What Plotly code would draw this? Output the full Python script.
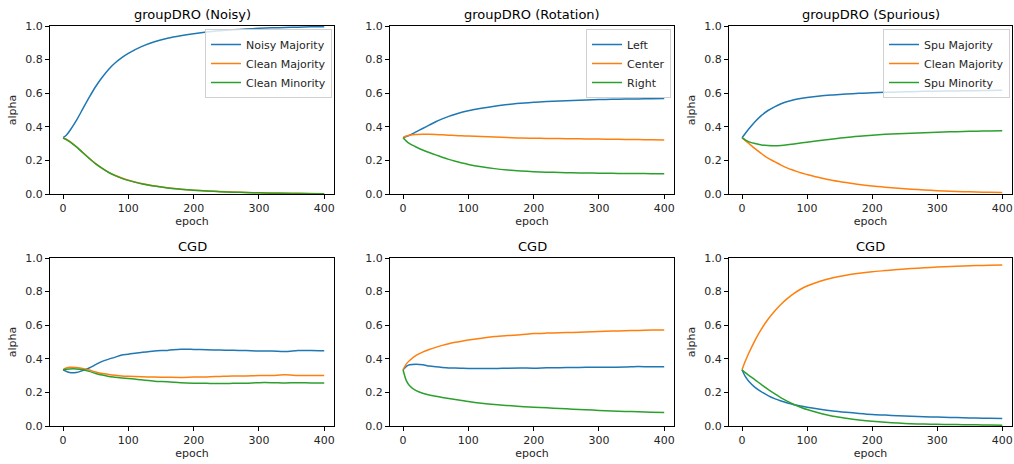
import plotly.graph_objects as go

EPOCHS = [0, 5, 10, 20, 30, 40, 50, 60, 70, 80, 90, 100, 120, 140, 160, 180,
          200, 220, 240, 260, 280, 300, 320, 340, 360, 380, 400]

# groupDRO (Noisy)
DRO_NOISY_NOISY_MAJ = [0.335, 0.35, 0.375, 0.435, 0.505, 0.575, 0.64, 0.695, 0.743, 0.781, 0.812, 0.837,
                       0.877, 0.906, 0.927, 0.942, 0.954, 0.964, 0.971, 0.977, 0.982, 0.986, 0.989,
                       0.991, 0.993, 0.995, 0.996]
DRO_NOISY_CLEAN_MAJ = [0.334, 0.326, 0.313, 0.283, 0.248, 0.213, 0.181, 0.153, 0.129, 0.11, 0.095, 0.082,
                       0.062, 0.047, 0.037, 0.029, 0.023, 0.018, 0.015, 0.012, 0.009, 0.007, 0.006,
                       0.005, 0.004, 0.003, 0.002]
DRO_NOISY_CLEAN_MIN = [0.333, 0.324, 0.312, 0.282, 0.247, 0.212, 0.179, 0.152, 0.128, 0.109, 0.093, 0.081,
                       0.061, 0.047, 0.036, 0.029, 0.023, 0.018, 0.014, 0.011, 0.009, 0.007, 0.005,
                       0.004, 0.003, 0.002, 0.002]

# groupDRO (Rotation)
DRO_ROT_LEFT = [0.335, 0.342, 0.35, 0.37, 0.39, 0.41, 0.43, 0.447, 0.462, 0.475, 0.486, 0.495,
                0.51, 0.523, 0.533, 0.54, 0.546, 0.55, 0.554, 0.557, 0.56, 0.562, 0.564,
                0.565, 0.566, 0.567, 0.568]
DRO_ROT_CENTER = [0.335, 0.345, 0.35, 0.354, 0.355, 0.355, 0.354, 0.352, 0.35, 0.348, 0.346, 0.345,
                  0.342, 0.339, 0.336, 0.333, 0.332, 0.331, 0.33, 0.329, 0.328, 0.327, 0.326,
                  0.325, 0.324, 0.323, 0.322]
DRO_ROT_RIGHT = [0.335, 0.315, 0.30, 0.28, 0.262, 0.247, 0.233, 0.219, 0.206, 0.195, 0.185, 0.176,
                 0.162, 0.151, 0.143, 0.137, 0.133, 0.13, 0.128, 0.126, 0.125, 0.124, 0.123,
                 0.122, 0.122, 0.121, 0.121]

# groupDRO (Spurious)
DRO_SPU_SPU_MAJ = [0.335, 0.36, 0.385, 0.43, 0.468, 0.497, 0.519, 0.537, 0.551, 0.561, 0.569, 0.575,
                   0.584, 0.59, 0.595, 0.599, 0.603, 0.605, 0.607, 0.609, 0.611, 0.612, 0.613,
                   0.614, 0.615, 0.616, 0.617]
DRO_SPU_CLEAN_MAJ = [0.335, 0.318, 0.303, 0.27, 0.24, 0.213, 0.193, 0.172, 0.154, 0.14, 0.126, 0.116,
                     0.097, 0.081, 0.068, 0.056, 0.047, 0.04, 0.034, 0.029, 0.024, 0.02, 0.017,
                     0.014, 0.012, 0.01, 0.009]
DRO_SPU_SPU_MIN = [0.335, 0.322, 0.312, 0.30, 0.292, 0.288, 0.287, 0.289, 0.293, 0.298, 0.303, 0.308,
                   0.318, 0.328, 0.337, 0.344, 0.35, 0.355, 0.359, 0.362, 0.365, 0.368, 0.37,
                   0.372, 0.374, 0.375, 0.376]

# CGD (Noisy)
CGD_NOISY_BLUE = [0.335, 0.325, 0.318, 0.318, 0.33, 0.345, 0.365, 0.385, 0.398, 0.41, 0.423, 0.427,
                  0.438, 0.447, 0.45, 0.457, 0.456, 0.454, 0.452, 0.451, 0.449, 0.446, 0.446,
                  0.443, 0.449, 0.45, 0.448]
CGD_NOISY_ORANGE = [0.335, 0.345, 0.35, 0.348, 0.343, 0.333, 0.322, 0.313, 0.307, 0.302, 0.298, 0.296,
                    0.293, 0.291, 0.29, 0.289, 0.291, 0.292, 0.295, 0.298, 0.298, 0.3, 0.301,
                    0.305, 0.301, 0.3, 0.3]
CGD_NOISY_GREEN = [0.335, 0.338, 0.34, 0.34, 0.335, 0.325, 0.313, 0.303, 0.295, 0.29, 0.285, 0.283,
                   0.275, 0.267, 0.264, 0.258, 0.255, 0.254, 0.253, 0.254, 0.255, 0.258, 0.258,
                   0.256, 0.258, 0.256, 0.256]

# CGD (Rotation)
CGD_ROT_BLUE = [0.335, 0.355, 0.365, 0.368, 0.365, 0.357, 0.352, 0.348, 0.345, 0.345, 0.344, 0.343,
                0.343, 0.342, 0.344, 0.345, 0.344, 0.346, 0.347, 0.348, 0.349, 0.349, 0.35,
                0.351, 0.354, 0.352, 0.353]
CGD_ROT_ORANGE = [0.335, 0.37, 0.39, 0.42, 0.44, 0.455, 0.468, 0.48, 0.49, 0.498, 0.505, 0.512,
                  0.523, 0.532, 0.538, 0.543, 0.55, 0.553, 0.555, 0.557, 0.56, 0.563, 0.565,
                  0.567, 0.569, 0.571, 0.572]
CGD_ROT_GREEN = [0.335, 0.27, 0.24, 0.21, 0.195, 0.185, 0.177, 0.17, 0.164, 0.158, 0.152, 0.146,
                 0.136, 0.128, 0.122, 0.116, 0.112, 0.108, 0.104, 0.1, 0.097, 0.093, 0.09,
                 0.087, 0.085, 0.082, 0.08]

# CGD (Spurious)
CGD_SPU_BLUE = [0.335, 0.295, 0.268, 0.23, 0.203, 0.181, 0.163, 0.149, 0.137, 0.127, 0.119, 0.112,
                0.1, 0.09, 0.082, 0.075, 0.069, 0.065, 0.061, 0.058, 0.055, 0.053, 0.051,
                0.049, 0.047, 0.046, 0.045]
CGD_SPU_ORANGE = [0.335, 0.385, 0.43, 0.51, 0.578, 0.635, 0.683, 0.725, 0.76, 0.79, 0.814, 0.833,
                  0.862, 0.883, 0.898, 0.909, 0.918, 0.925, 0.932, 0.937, 0.942, 0.946, 0.949,
                  0.952, 0.955, 0.957, 0.959]
CGD_SPU_GREEN = [0.335, 0.318, 0.303, 0.275, 0.246, 0.218, 0.192, 0.168, 0.147, 0.128, 0.112, 0.098,
                 0.076, 0.058, 0.046, 0.036, 0.028, 0.022, 0.018, 0.014, 0.012, 0.01, 0.009,
                 0.008, 0.007, 0.006, 0.005]

TITLES = ["groupDRO (Noisy)", "groupDRO (Rotation)", "groupDRO (Spurious)", "CGD", "CGD", "CGD"]
LEGEND_NAMES = [["Noisy Majority", "Clean Majority", "Clean Minority"],
                ["Left", "Center", "Right"],
                ["Spu Majority", "Clean Majority", "Spu Minority"]]
PANELS = [
    [DRO_NOISY_NOISY_MAJ, DRO_NOISY_CLEAN_MAJ, DRO_NOISY_CLEAN_MIN],
    [DRO_ROT_LEFT, DRO_ROT_CENTER, DRO_ROT_RIGHT],
    [DRO_SPU_SPU_MAJ, DRO_SPU_CLEAN_MAJ, DRO_SPU_SPU_MIN],
    [CGD_NOISY_BLUE, CGD_NOISY_ORANGE, CGD_NOISY_GREEN],
    [CGD_ROT_BLUE, CGD_ROT_ORANGE, CGD_ROT_GREEN],
    [CGD_SPU_BLUE, CGD_SPU_ORANGE, CGD_SPU_GREEN],
]
COLORS = ["#1f77b4", "#ff7f0e", "#2ca02c"]
SHOW_ALPHA = [True, False, True, True, False, True]

W, H = 1014, 464
XPIX = [(50, 334), (390, 674), (729, 1012)]
YPIX = [(26, 194), (258, 426)]
FONT = "DejaVu Sans"
TXT = "#262626"
FS = 11

fig = go.Figure()
layout = dict(width=W, height=H, margin=dict(l=0, r=0, t=0, b=0),
              paper_bgcolor="white", plot_bgcolor="white",
              font=dict(family=FONT, size=FS, color=TXT), annotations=[])

for i in range(6):
    r, c = divmod(i, 3)
    n = i + 1
    xa = "xaxis" if n == 1 else f"xaxis{n}"
    ya = "yaxis" if n == 1 else f"yaxis{n}"
    xref = "x" if n == 1 else f"x{n}"
    yref = "y" if n == 1 else f"y{n}"
    x0, x1 = XPIX[c]
    y0, y1 = YPIX[r]
    common = dict(showline=True, linecolor="black", linewidth=1, mirror=True,
                  ticks="outside", ticklen=4, tickwidth=1, tickcolor="black",
                  showgrid=False, zeroline=False, automargin=False,
                  tickfont=dict(family=FONT, size=FS, color=TXT))
    layout[xa] = dict(domain=[x0 / W, x1 / W], range=[-20, 415], anchor=yref,
                      tickvals=[0, 100, 200, 300, 400],
                      title=dict(text="epoch", font=dict(size=FS, color=TXT), standoff=3),
                      **common)
    layout[ya] = dict(domain=[1 - y1 / H, 1 - y0 / H], range=[0, 1], anchor=xref,
                      tickvals=[0, 0.2, 0.4, 0.6, 0.8, 1.0], tickformat=".1f",
                      title=dict(text="alpha" if SHOW_ALPHA[i] else "",
                                 font=dict(size=FS, color=TXT), standoff=6),
                      **common)
    layout["annotations"].append(dict(
        text=TITLES[i], x=(x0 + x1) / 2 / W, y=1 - y0 / H, xref="paper", yref="paper",
        xanchor="center", yanchor="bottom", yshift=2, showarrow=False,
        font=dict(family=FONT, size=13, color="black")))
    for k in range(3):
        tr = dict(x=EPOCHS, y=PANELS[i][k], mode="lines", xaxis=xref, yaxis=yref,
                  line=dict(color=COLORS[k], width=1.5, shape="spline", smoothing=0.8))
        if r == 0:
            tr["name"] = LEGEND_NAMES[c][k]
            tr["legend"] = "legend" if c == 0 else f"legend{c + 1}"
            tr["showlegend"] = True
        else:
            tr["showlegend"] = False
        fig.add_trace(go.Scatter(**tr))

LEG_RIGHT = [332, 671, 1010]
for c in range(3):
    key = "legend" if c == 0 else f"legend{c + 1}"
    layout[key] = dict(x=LEG_RIGHT[c] / W, y=1 - 29 / H, xanchor="right", yanchor="top",
                       xref="paper", yref="paper",
                       bgcolor="rgba(255,255,255,0.8)", bordercolor="#d0d0d0", borderwidth=1,
                       font=dict(family=FONT, size=FS, color=TXT), itemwidth=30,
                       tracegroupgap=0)

fig.update_layout(**layout)
fig.write_html("out.html", config={"displayModeBar": False},
               post_script="document.body.style.margin='0';document.body.style.overflow='hidden';")
